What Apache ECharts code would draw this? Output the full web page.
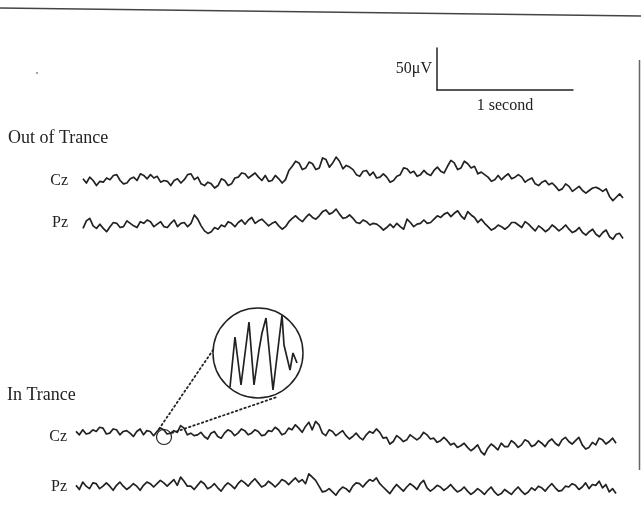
<!DOCTYPE html>
<html>
<head>
<meta charset="utf-8">
<script src="https://cdn.jsdelivr.net/npm/echarts@6/dist/echarts.min.js"></script>
<style>html,body{margin:0;padding:0;background:#fff}#c{width:641px;height:520px}</style>
</head>
<body>
<div id="c"></div>
<script>
// Sample interval of the traces (seconds)
const sampleStep = 0.025;
const traceSeconds = 4;

// Out of Trance, Cz (µV)
const outCz = [2,-3,4,0,-6,-1,-2,3,1,6,7,0,-4,-3,2,4,0,8,6,2,7,3,5,-2,0,-1,-6,0,2,-3,1,7,8,1,4,-4,-6,-2,-4,-9,-6,2,0,-6,-4,3,4,9,8,3,6,9,4,0,6,-1,0,6,2,-3,1,12,17,23,21,13,15,22,20,13,15,27,25,16,21,28,23,14,18,16,13,7,5,11,12,6,10,3,4,8,4,-2,0,5,7,15,14,9,11,5,7,12,8,6,12,16,11,9,17,24,21,13,15,23,20,15,17,8,10,7,4,-1,1,6,1,5,8,2,4,7,4,-2,1,3,-4,-6,-2,0,-5,-3,-7,-12,-10,-4,-7,-13,-10,-7,-12,-15,-12,-9,-8,-10,-13,-10,-19,-24,-20,-16,-21];
// Out of Trance, Pz (µV)
const outPz = [-7,2,5,-4,-7,-2,-7,-11,-5,0,-1,-6,-5,2,-1,-4,-6,1,-1,3,1,-5,-2,1,-5,-6,-1,3,-5,-1,0,-5,-1,9,4,-4,-10,-13,-11,-6,-8,-3,-5,1,-1,-5,0,3,-2,3,6,-1,2,4,0,-4,-1,1,-4,-8,-5,1,5,8,4,1,6,10,6,4,8,13,15,10,12,16,10,5,6,9,5,0,-1,3,1,-3,-1,-2,-5,-9,-6,-2,-6,-1,-5,-8,4,0,-5,-2,-1,3,-1,0,4,8,6,10,12,7,11,14,8,4,13,9,6,0,4,-1,-5,-9,-7,-3,-5,-8,-5,0,0,-3,-6,1,-2,-6,-10,-4,-7,-11,-8,-3,-6,-10,-7,-3,-8,-12,-10,-6,-12,-15,-11,-8,-14,-17,-12,-9,-17,-20,-14,-13,-19];
// In Trance, Cz (µV)
const inCz = [6,2,8,3,4,8,6,11,10,3,4,9,8,2,6,7,4,0,6,9,2,7,6,1,6,10,8,3,4,7,5,13,10,2,4,1,2,5,0,-3,4,6,0,-2,4,8,6,1,4,9,7,2,4,8,6,1,2,7,6,11,8,2,4,10,8,14,10,5,12,17,8,18,14,4,1,8,6,1,4,7,1,-3,0,4,-1,-4,2,6,4,9,5,-2,-1,-9,-6,1,-2,-6,-4,2,-1,-4,-1,5,2,-3,-2,-7,-5,-1,-5,-10,-8,-13,-11,-8,-13,-17,-14,-10,-18,-22,-14,-9,-12,-16,-8,-12,-12,-5,-8,-13,-10,-4,-6,-12,-10,-5,-8,-12,-6,-3,-8,-11,-4,-1,-6,-9,-5,-1,-10,-15,-13,-7,-10,-2,-4,-9,-6,-2,-8];
// In Trance, Pz (µV)
const inPz = [2,-3,6,1,-2,5,4,-2,1,5,1,-4,2,6,1,-3,0,4,1,-4,2,6,4,0,4,8,5,1,5,9,2,12,7,1,1,-3,2,7,4,-2,0,4,-1,-5,1,5,2,-2,4,8,5,1,6,10,5,0,2,7,4,0,4,9,7,3,7,11,6,9,4,16,12,8,1,-6,-5,-2,-6,-10,-4,0,-2,-6,1,5,4,0,5,9,7,11,4,0,-4,-8,-2,3,-1,-5,0,4,1,-3,4,8,-1,-5,-2,2,0,-4,-1,3,-2,-6,-4,0,-5,-9,-6,-2,-5,-9,-4,0,-6,-10,-8,-3,-6,-9,-4,0,-5,-9,-6,-1,-4,1,-1,-5,0,4,-1,-5,-4,1,0,4,2,-3,0,5,-2,3,2,7,-1,3,-6,-2,-8];
// Magnified segment (time in ms, amplitude in arbitrary units)
const zoomT = [2,7,13,21,26,31,34,38,45,54,56,58,62,65,69];
const zoomV = [8,58,10,73,10,45,62,77,5,80,50,52,25,42,32];

// Labels
const sectionLabels = ['Out of Trance','In Trance'];
const channelLabels = ['Cz','Pz','Cz','Pz'];
const scaleLabels = {amp:'50μV', time:'1 second', ampValue:50, timeValue:1};

const INK = '#222';
const FONT = '"Liberation Serif", "DejaVu Serif", serif';
const toSeries = arr => arr.map((v,i)=>[+(i*sampleStep).toFixed(3), v]);

const traceGrids = [
  {left:83, top:147, width:540, height:67},
  {left:83, top:189, width:540, height:67},
  {left:76, top:403, width:540, height:67},
  {left:76, top:454, width:540, height:67}
];
const traceData = [outCz,outPz,inCz,inPz];

const grid = traceGrids.concat([
  {left:437, top:48, width:136, height:42},   // scale bar
  {left:228, top:310, width:72, height:85}    // magnified inset
]);

const xAxis = [], yAxis = [], series = [];
traceGrids.forEach((g,i)=>{
  xAxis.push({type:'value', gridIndex:i, min:0, max:traceSeconds, show:false});
  yAxis.push({type:'value', gridIndex:i, min:-40, max:40,
    name:channelLabels[i], nameLocation:'middle', nameRotate:0, nameGap:i<2?15:9,
    nameTextStyle:{fontFamily:FONT, fontSize:16, color:INK, align:'right', verticalAlign:'middle'},
    axisLine:{show:false}, axisTick:{show:false}, axisLabel:{show:false}, splitLine:{show:false}});
  series.push({type:'line', xAxisIndex:i, yAxisIndex:i, data:toSeries(traceData[i]),
    symbol:'none', lineStyle:{color:INK, width:1.7, join:'round'}, silent:true});
});
// scale bar axes
xAxis.push({type:'value', gridIndex:4, min:0, max:scaleLabels.timeValue,
  axisLine:{show:true, lineStyle:{color:INK, width:1.5}}, axisTick:{show:false}, axisLabel:{show:false}, splitLine:{show:false},
  name:scaleLabels.time, nameLocation:'middle', nameGap:8,
  nameTextStyle:{fontFamily:FONT, fontSize:16, color:INK, verticalAlign:'top'}});
yAxis.push({type:'value', gridIndex:4, min:0, max:scaleLabels.ampValue,
  axisLine:{show:true, lineStyle:{color:INK, width:1.5}}, axisTick:{show:false}, axisLabel:{show:false}, splitLine:{show:false},
  name:scaleLabels.amp, nameLocation:'middle', nameRotate:0, nameGap:5,
  nameTextStyle:{fontFamily:FONT, fontSize:16, color:INK, align:'right', verticalAlign:'middle', padding:[0,0,8,0]}});
// inset axes
xAxis.push({type:'value', gridIndex:5, min:0, max:72, show:false});
yAxis.push({type:'value', gridIndex:5, min:0, max:85, show:false});
series.push({type:'line', xAxisIndex:5, yAxisIndex:5, data:zoomT.map((t,i)=>[t,zoomV[i]]),
  symbol:'none', lineStyle:{color:INK, width:1.7}, silent:true});

const chart = echarts.init(document.getElementById('c'), null, {renderer:'canvas'});
chart.setOption({
  animation:false,
  backgroundColor:'#fff',
  title:[
    {text:sectionLabels[0], left:8, top:129, padding:0, textStyle:{fontFamily:FONT, fontSize:18, fontWeight:'normal', color:INK}},
    {text:sectionLabels[1], left:7, top:386, padding:0, textStyle:{fontFamily:FONT, fontSize:18, fontWeight:'normal', color:INK}}
  ],
  grid, xAxis, yAxis, series,
  graphic:[
    {type:'line', shape:{x1:0,y1:8,x2:641,y2:16}, style:{stroke:'#444', lineWidth:1.5}},
    {type:'line', shape:{x1:639.5,y1:60,x2:639.5,y2:470}, style:{stroke:'#666', lineWidth:1.5}},
    {type:'circle', shape:{cx:37,cy:73,r:1}, style:{fill:'#888'}},
    {type:'circle', shape:{cx:258,cy:353,r:45}, style:{fill:'none', stroke:INK, lineWidth:1.5}},
    {type:'circle', shape:{cx:164,cy:437,r:7.5}, style:{fill:'none', stroke:INK, lineWidth:1.2}},
    {type:'line', shape:{x1:159,y1:429,x2:213,y2:350}, style:{stroke:INK, lineWidth:1.8, lineDash:[1.5,3], lineCap:'round'}},
    {type:'line', shape:{x1:172,y1:433,x2:277,y2:397}, style:{stroke:INK, lineWidth:1.8, lineDash:[1.5,3], lineCap:'round'}}
  ]
});
</script>
</body>
</html>
